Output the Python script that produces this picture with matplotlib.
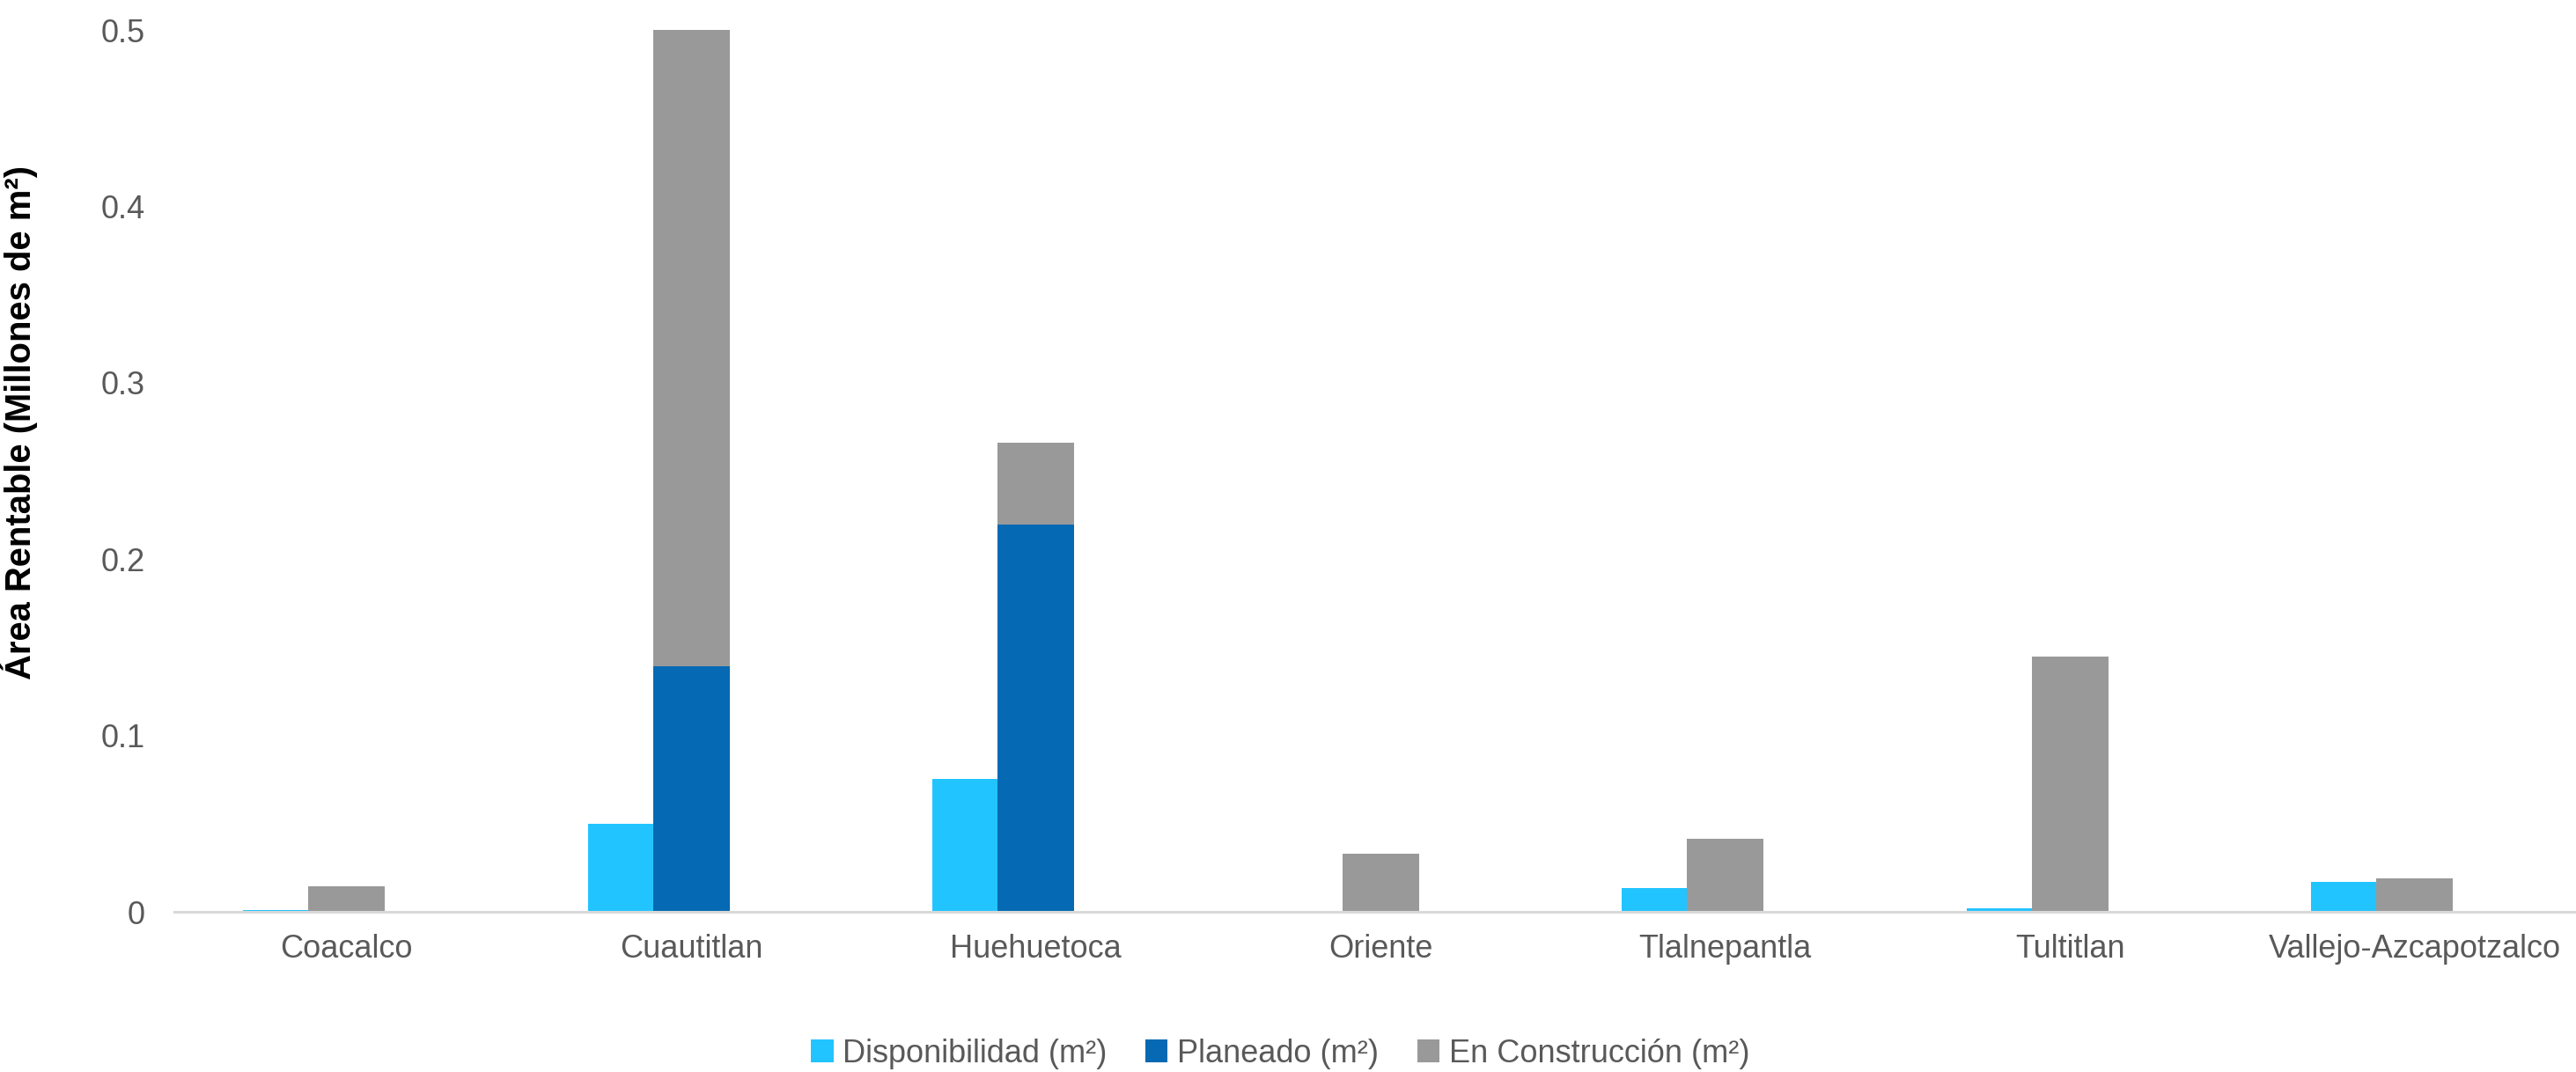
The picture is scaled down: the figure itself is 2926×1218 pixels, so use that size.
import numpy as np
import matplotlib
matplotlib.use("Agg")
import matplotlib.pyplot as plt

categories = ['Coacalco', 'Cuautitlan', 'Huehuetoca', 'Oriente',
              'Tlalnepantla', 'Tultitlan', 'Vallejo-Azcapotzalco']
disponibilidad = [0.0008, 0.050, 0.0755, 0.0, 0.0133, 0.002, 0.017]
planeado = [0.0, 0.139, 0.2197, 0.0, 0.0, 0.0, 0.0]
construccion = [0.0143, 0.361, 0.0463, 0.0328, 0.0414, 0.1449, 0.019]

c_disp = '#22C4FF'
c_plan = '#0569B3'
c_cons = '#999999'
txt = '#595959'

plt.rcParams['font.family'] = ['Liberation Sans', 'DejaVu Sans']

fig = plt.figure(figsize=(14.63, 6.09), dpi=200)
ax = fig.add_axes([0.0677, 0.1494, 0.9323, 0.8226])

x = np.arange(len(categories))
w_stack = 0.222
w_disp = 0.189

ax.bar(x - w_stack / 2 - w_disp / 2, disponibilidad, width=w_disp,
       color=c_disp, label='Disponibilidad (m²)')
ax.bar(x, planeado, width=w_stack, color=c_plan, label='Planeado (m²)')
ax.bar(x, construccion, width=w_stack, bottom=planeado, color=c_cons,
       label='En Construcción (m²)')

ax.set_xlim(-0.5, 6.468)
ax.set_ylim(0, 0.5)
ax.set_yticks([0, 0.1, 0.2, 0.3, 0.4, 0.5])
ax.set_yticklabels(['0', '0.1', '0.2', '0.3', '0.4', '0.5'])
ax.set_xticks(x)
ax.set_xticklabels(categories)
ax.tick_params(axis='both', length=0, labelsize=13, colors=txt)
ax.tick_params(axis='y', pad=12)
ax.tick_params(axis='x', pad=9)

for s in ['top', 'right', 'left']:
    ax.spines[s].set_visible(False)
ax.spines['bottom'].set_color('#D9D9D9')
ax.spines['bottom'].set_linewidth(1.1)

ax.set_ylabel('Área Rentable (Millones de m²)', fontsize=14.4, fontweight='bold',
              color='black')
ax.yaxis.set_label_coords(-0.0568, 0.555)

leg = fig.legend(loc='lower center', bbox_to_anchor=(0.497, -0.024), ncol=3,
                 frameon=False, fontsize=13, handlelength=0.7, handleheight=0.7,
                 handletextpad=0.3, columnspacing=1.2)
for t in leg.get_texts():
    t.set_color(txt)

fig.savefig('out.png', dpi=200)
